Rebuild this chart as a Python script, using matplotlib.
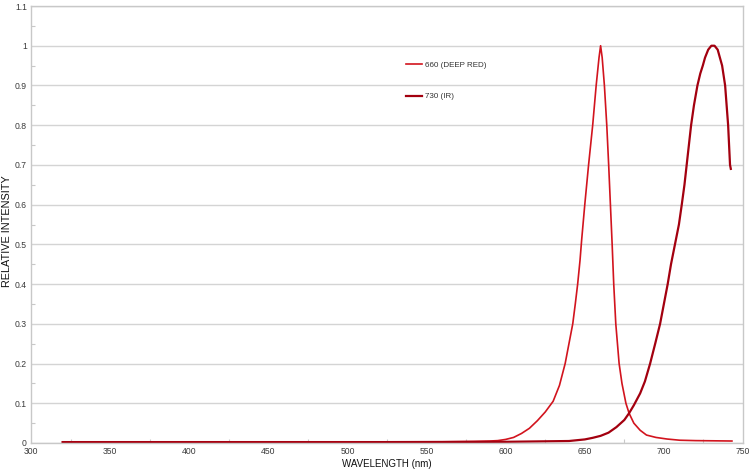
import matplotlib
matplotlib.use('Agg')
import matplotlib.pyplot as plt
from matplotlib.ticker import MultipleLocator, FuncFormatter

# spectrum of the 660 nm (deep red) emitter
red_nm = [320, 400, 500, 560, 580, 590, 595, 600, 605, 610, 615, 620, 625, 630,
          634, 637.6, 640, 642.4, 644, 645.5, 647, 648, 650, 652.4, 655, 657.2,
          659, 660, 661, 662.4, 663.9, 665.1, 666.2, 667.3, 668.3, 669.6, 671.7,
          673.5, 676, 678, 681, 685, 689, 695, 702, 710, 720, 743]
red_val = [0.003, 0.003, 0.003, 0.003, 0.004, 0.005, 0.006, 0.009, 0.014, 0.024,
           0.037, 0.056, 0.078, 0.105, 0.145, 0.2, 0.25, 0.3, 0.35, 0.4, 0.46,
           0.51, 0.6, 0.7, 0.8, 0.9, 0.97, 1.0, 0.97, 0.9, 0.8, 0.7, 0.6, 0.5,
           0.4, 0.3, 0.2, 0.15, 0.10, 0.075, 0.05, 0.032, 0.02, 0.014, 0.01,
           0.007, 0.006, 0.005]

# spectrum of the 730 nm (IR) emitter
ir_nm = [320, 400, 500, 600, 620, 640, 650, 655, 660, 665, 670, 675, 678, 681,
         685, 688, 691.3, 694.5, 697.6, 700, 702.4, 704.5, 707, 709.5, 711.3,
         713, 714.4, 717.2, 719, 721.2, 723, 724.6, 726, 728, 730, 732, 734,
         736.8, 738.7, 740.6, 741.8, 742.3]
ir_val = [0.002, 0.002, 0.002, 0.003, 0.004, 0.005, 0.009, 0.013, 0.018, 0.026,
          0.04, 0.058, 0.075, 0.095, 0.125, 0.155, 0.2, 0.25, 0.3, 0.35, 0.4,
          0.45, 0.5, 0.55, 0.6, 0.65, 0.7, 0.8, 0.85, 0.9, 0.93, 0.95, 0.97,
          0.99, 1.0, 1.0, 0.99, 0.95, 0.9, 0.8, 0.7, 0.69]

series_labels = ['660 (DEEP RED)', '730 (IR)']
x_ticks = [300, 350, 400, 450, 500, 550, 600, 650, 700, 750]

plt.rcParams['font.family'] = ['Liberation Sans', 'DejaVu Sans']

fig = plt.figure(figsize=(7.5, 4.72), dpi=100)
ax = fig.add_axes([31 / 750, 1 - 443 / 472, (743 - 31) / 750, (443 - 6) / 472])

ax.plot(red_nm, red_val, color='#d2141e', lw=1.2, label=series_labels[0])
ax.plot(ir_nm, ir_val, color='#a3000f', lw=1.6, label=series_labels[1])

ax.set_xlim(300, 750)
ax.set_ylim(0, 1.1)
ax.set_xticks(x_ticks)
ax.xaxis.set_minor_locator(MultipleLocator(25))
ax.yaxis.set_major_locator(MultipleLocator(0.1))
ax.yaxis.set_minor_locator(MultipleLocator(0.05))
ax.yaxis.set_major_formatter(FuncFormatter(lambda v, p: f'{v:g}'))

ax.grid(axis='y', which='major', color='#d4d4d4', lw=1.0)
ax.set_axisbelow(True)
for s in ax.spines.values():
    s.set_color('#c8c8c8')
    s.set_linewidth(1.0)

ax.tick_params(which='major', length=0, labelsize=6.2, labelcolor='#3a3a3a', pad=3)
ax.tick_params(which='minor', direction='in', length=3, color='#c8c8c8', width=0.8)

ax.set_xlabel('WAVELENGTH (nm)', fontsize=7, color='#111111')
ax.xaxis.set_label_coords(0.5, -(464 - 443) / 437)
ax.xaxis.label.set_va('center')
ax.set_ylabel('RELATIVE INTENSITY', fontsize=7.8, color='#111111')
ax.yaxis.set_label_coords(-(31 - 7) / 712, 0.485)
ax.yaxis.label.set_va('center')

ax.legend(loc='upper left', bbox_to_anchor=(406 / 750, 1 - 61 / 472),
          bbox_transform=fig.transFigure, frameon=False, fontsize=5.8,
          handlelength=2.0, handletextpad=0.4, labelspacing=3.0,
          borderpad=0, borderaxespad=0, labelcolor='#333333')

fig.savefig('out.png', dpi=100)
